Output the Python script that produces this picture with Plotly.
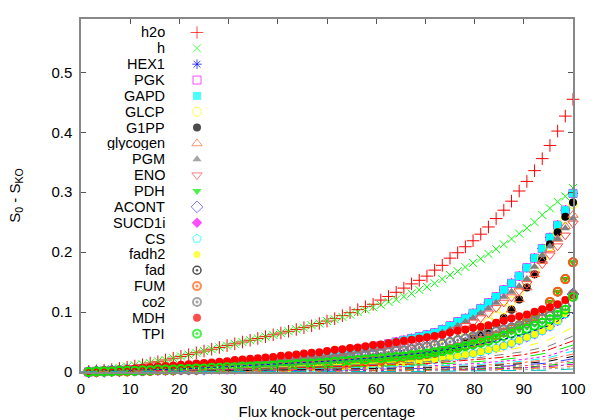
import plotly.graph_objects as go

# x grid: knock-out percentage (64 steps)
flux_pct = [round(100 * k / 64, 4) for k in range(1, 65)]

h2o_vals = [0.001,0.002,0.003,0.004,0.006,0.008,0.010,0.012,0.015,0.017,0.020,0.023,0.026,0.029,0.032,0.035,
            0.038,0.041,0.044,0.047,0.050,0.053,0.056,0.059,0.062,0.065,0.068,0.071,0.074,0.077,0.081,0.085,
            0.089,0.094,0.099,0.104,0.109,0.113,0.120,0.126,0.133,0.140,0.147,0.153,0.160,0.170,0.178,0.190,
            0.199,0.209,0.219,0.230,0.242,0.256,0.270,0.285,0.302,0.318,0.336,0.356,0.378,0.402,0.427,0.455]
h_vals = [0.001,0.002,0.004,0.005,0.007,0.009,0.011,0.013,0.015,0.018,0.020,0.023,0.026,0.029,0.032,0.035,
          0.038,0.041,0.044,0.047,0.050,0.053,0.056,0.059,0.062,0.065,0.068,0.071,0.074,0.078,0.081,0.085,
          0.088,0.092,0.096,0.100,0.104,0.108,0.112,0.117,0.121,0.126,0.131,0.137,0.142,0.148,0.155,0.162,
          0.168,0.175,0.182,0.189,0.197,0.205,0.213,0.222,0.231,0.240,0.250,0.262,0.273,0.284,0.293,0.307]
gapd_vals = [0.000,0.001,0.001,0.002,0.002,0.003,0.003,0.004,0.004,0.005,0.006,0.006,0.007,0.008,0.009,0.010,
             0.011,0.012,0.013,0.014,0.015,0.016,0.017,0.018,0.019,0.020,0.022,0.023,0.024,0.026,0.027,0.029,
             0.031,0.033,0.035,0.037,0.039,0.041,0.044,0.047,0.050,0.053,0.056,0.059,0.062,0.0655,0.071,0.077,
             0.084,0.0895,0.098,0.106,0.1155,0.1255,0.137,0.148,0.160,0.174,0.190,0.206,0.2245,0.245,0.270,0.298]
glcp_vals = [0.000,0.000,0.001,0.001,0.001,0.001,0.002,0.002,0.002,0.003,0.003,0.003,0.004,0.004,0.004,0.005,
             0.005,0.005,0.006,0.006,0.006,0.007,0.007,0.007,0.008,0.008,0.008,0.009,0.009,0.010,0.010,0.011,
             0.012,0.013,0.014,0.015,0.017,0.018,0.020,0.022,0.024,0.026,0.029,0.032,0.035,0.039,0.043,0.048,
             0.053,0.059,0.066,0.074,0.083,0.093,0.105,0.118,0.133,0.150,0.170,0.190,0.210,0.232,0.255,0.280]
g1pp_vals = [0.000,0.000,0.001,0.001,0.001,0.002,0.002,0.002,0.003,0.003,0.003,0.004,0.004,0.004,0.005,0.005,
             0.006,0.006,0.006,0.007,0.007,0.008,0.008,0.008,0.009,0.009,0.010,0.010,0.011,0.011,0.012,0.012,
             0.013,0.014,0.015,0.016,0.017,0.018,0.019,0.021,0.022,0.024,0.026,0.028,0.030,0.033,0.035,0.038,
             0.042,0.050,0.056,0.062,0.070,0.080,0.090,0.104,0.121,0.141,0.163,0.188,0.213,0.233,0.259,0.283]
glycogen_vals = [0.000,0.000,0.001,0.001,0.001,0.002,0.002,0.002,0.003,0.003,0.003,0.004,0.004,0.004,0.005,0.005,
                 0.006,0.006,0.006,0.007,0.007,0.008,0.008,0.008,0.009,0.009,0.010,0.010,0.011,0.011,0.012,0.012,
                 0.013,0.014,0.015,0.016,0.017,0.018,0.019,0.021,0.022,0.024,0.026,0.028,0.030,0.033,0.035,0.038,
                 0.042,0.050,0.056,0.062,0.070,0.080,0.090,0.104,0.121,0.141,0.163,0.185,0.205,0.222,0.243,0.262]
pgm_vals = [0.000,0.001,0.001,0.002,0.002,0.003,0.003,0.004,0.004,0.005,0.005,0.006,0.007,0.007,0.008,0.009,
            0.010,0.011,0.012,0.013,0.014,0.015,0.016,0.017,0.018,0.019,0.020,0.021,0.022,0.024,0.025,0.026,
            0.028,0.030,0.032,0.034,0.036,0.038,0.040,0.043,0.046,0.049,0.052,0.055,0.058,0.061,0.066,0.071,
            0.077,0.084,0.0895,0.098,0.106,0.1155,0.1255,0.134,0.143,0.155,0.1755,0.195,0.210,0.222,0.240,0.256]
eno_vals = [0.000,0.001,0.001,0.001,0.002,0.002,0.003,0.003,0.004,0.004,0.005,0.005,0.006,0.007,0.007,0.008,
            0.009,0.009,0.010,0.011,0.012,0.013,0.014,0.015,0.016,0.017,0.018,0.019,0.020,0.021,0.022,0.023,
            0.024,0.025,0.027,0.029,0.031,0.033,0.035,0.037,0.040,0.043,0.046,0.049,0.052,0.056,0.060,0.065,
            0.071,0.077,0.083,0.090,0.098,0.107,0.116,0.125,0.135,0.147,0.163,0.180,0.195,0.210,0.228,0.248]
pdh_vals = [0.000,0.000,0.001,0.001,0.001,0.001,0.002,0.002,0.002,0.003,0.003,0.003,0.004,0.004,0.004,0.005,
            0.005,0.006,0.006,0.006,0.007,0.007,0.008,0.008,0.009,0.009,0.010,0.010,0.011,0.011,0.012,0.012,
            0.013,0.014,0.015,0.016,0.017,0.018,0.019,0.021,0.022,0.024,0.026,0.028,0.030,0.032,0.035,0.038,
            0.041,0.044,0.048,0.052,0.056,0.061,0.066,0.072,0.078,0.085,0.092,0.101,0.117,0.134,0.155,0.183]
co2_vals = [0.000,0.001,0.001,0.002,0.002,0.003,0.003,0.004,0.004,0.005,0.005,0.006,0.006,0.007,0.008,0.008,
            0.009,0.010,0.010,0.011,0.012,0.013,0.014,0.014,0.015,0.016,0.017,0.018,0.019,0.020,0.021,0.022,
            0.023,0.024,0.025,0.027,0.028,0.030,0.031,0.033,0.035,0.036,0.038,0.040,0.042,0.045,0.047,0.050,
            0.053,0.056,0.059,0.062,0.065,0.068,0.071,0.074,0.077,0.081,0.085,0.089,0.094,0.100,0.110,0.130]
mdh_vals = [0.001,0.002,0.003,0.003,0.004,0.005,0.006,0.007,0.008,0.009,0.010,0.011,0.012,0.013,0.014,0.015,
            0.016,0.017,0.018,0.020,0.021,0.022,0.023,0.024,0.025,0.027,0.028,0.029,0.031,0.032,0.033,0.035,
            0.037,0.038,0.040,0.041,0.043,0.045,0.046,0.048,0.050,0.052,0.054,0.056,0.058,0.060,0.062,0.066,
            0.069,0.071,0.074,0.0755,0.078,0.082,0.0855,0.0895,0.093,0.096,0.1005,0.1045,0.108,0.113,0.120,0.128]
tpi_vals = [0.000,0.001,0.001,0.001,0.002,0.002,0.002,0.003,0.003,0.004,0.004,0.004,0.005,0.005,0.006,0.006,
            0.007,0.007,0.008,0.008,0.009,0.009,0.010,0.010,0.011,0.012,0.012,0.013,0.014,0.014,0.015,0.016,
            0.017,0.018,0.019,0.020,0.021,0.022,0.023,0.024,0.025,0.026,0.028,0.029,0.031,0.033,0.035,0.037,
            0.040,0.043,0.046,0.049,0.052,0.056,0.060,0.064,0.068,0.072,0.077,0.082,0.088,0.095,0.104,0.125]
cs_vals = [0.000,0.000,0.000,0.001,0.001,0.001,0.001,0.001,0.002,0.002,0.002,0.002,0.003,0.003,0.003,0.003,
           0.004,0.004,0.004,0.004,0.005,0.005,0.005,0.005,0.006,0.006,0.006,0.007,0.007,0.007,0.008,0.008,
           0.009,0.009,0.010,0.011,0.011,0.012,0.013,0.014,0.015,0.016,0.017,0.018,0.020,0.021,0.023,0.025,
           0.027,0.029,0.031,0.034,0.037,0.040,0.044,0.048,0.053,0.058,0.063,0.069,0.076,0.085,0.097,0.125]

series_names = ["h2o", "h", "HEX1", "PGK", "GAPD", "GLCP", "G1PP", "glycogen", "PGM", "ENO",
                "PDH", "ACONT", "SUCD1i", "CS", "fadh2", "fad", "FUM", "co2", "MDH", "TPI"]
series_values = [h2o_vals, h_vals, gapd_vals, gapd_vals, gapd_vals, glcp_vals, g1pp_vals, glycogen_vals,
                 pgm_vals, eno_vals, pdh_vals, co2_vals, cs_vals, cs_vals, cs_vals, pdh_vals, pdh_vals,
                 co2_vals, mdh_vals, tpi_vals]

# other (unlabelled) reactions drawn as thin lines
line_x = [0, 10, 20, 30, 40, 50, 60, 70, 80, 85, 90, 95, 100]
other_lines = [
    [0, 0.002, 0.005, 0.009, 0.013, 0.018, 0.024, 0.032, 0.045, 0.053, 0.063, 0.077, 0.098],
    [0, 0.001, 0.003, 0.005, 0.008, 0.011, 0.015, 0.020, 0.028, 0.034, 0.042, 0.053, 0.075],
    [0, 0.001, 0.003, 0.005, 0.007, 0.010, 0.013, 0.017, 0.023, 0.028, 0.034, 0.043, 0.060],
    [0, 0.001, 0.002, 0.004, 0.006, 0.008, 0.011, 0.014, 0.020, 0.024, 0.029, 0.037, 0.052],
    [0, 0.001, 0.002, 0.003, 0.005, 0.007, 0.009, 0.012, 0.017, 0.020, 0.025, 0.032, 0.045],
    [0, 0.001, 0.002, 0.003, 0.004, 0.006, 0.008, 0.010, 0.014, 0.017, 0.021, 0.027, 0.040],
    [0, 0.000, 0.001, 0.002, 0.004, 0.005, 0.007, 0.009, 0.012, 0.015, 0.018, 0.024, 0.035],
    [0, 0.000, 0.001, 0.002, 0.003, 0.004, 0.006, 0.008, 0.010, 0.013, 0.016, 0.021, 0.030],
    [0, 0.000, 0.001, 0.002, 0.003, 0.004, 0.005, 0.007, 0.009, 0.011, 0.014, 0.018, 0.026],
    [0, 0.000, 0.001, 0.001, 0.002, 0.003, 0.004, 0.006, 0.008, 0.009, 0.012, 0.015, 0.022],
    [0, 0.000, 0.001, 0.001, 0.002, 0.003, 0.004, 0.005, 0.006, 0.008, 0.010, 0.013, 0.019],
    [0, 0.000, 0.000, 0.001, 0.001, 0.002, 0.003, 0.004, 0.005, 0.007, 0.008, 0.011, 0.016],
    [0, 0.000, 0.000, 0.001, 0.001, 0.002, 0.002, 0.003, 0.004, 0.005, 0.007, 0.009, 0.013],
    [0, 0.000, 0.000, 0.001, 0.001, 0.001, 0.002, 0.002, 0.003, 0.004, 0.005, 0.007, 0.010],
    [0, 0.000, 0.000, 0.000, 0.001, 0.001, 0.001, 0.002, 0.002, 0.003, 0.004, 0.005, 0.007],
    [0, 0.000, 0.000, 0.000, 0.000, 0.001, 0.001, 0.001, 0.002, 0.002, 0.003, 0.003, 0.005],
]

x_ticks = [0, 10, 20, 30, 40, 50, 60, 70, 80, 90, 100]
y_ticks = [0, 0.1, 0.2, 0.3, 0.4, 0.5]

# styles
symbols = ["cross-thin-open", "x-thin-open", "asterisk-open", "square-open", "square", "circle-open",
           "circle", "triangle-up-open", "triangle-up", "triangle-down-open", "triangle-down",
           "diamond-open", "diamond", "pentagon-open", "circle", "circle-open-dot", "circle-open-dot",
           "circle-open-dot", "circle", "circle-open-dot"]
colors = ["#ff0000", "#00ff00", "#0000ff", "#ff00ff", "#00ffff", "#ffff00", "#000000", "#ff6a40",
          "#808080", "#ff4c4c", "#00ee00", "#4040ff", "#ff00ff", "#00ffff", "#ffff00", "#000000",
          "#ff6010", "#808080", "#ff0000", "#00ee00"]
sizes = [9, 8, 8, 8, 8, 9, 8, 9, 8, 9, 8, 9, 8, 9, 7, 8, 8, 8, 8, 8]
widths = [1, 1, 1, 1, 0, 1, 0, 1, 0, 1, 0, 1, 0, 1, 0, 1.5, 2, 2, 0, 2]
line_colors = ["#0000ff", "#ffff00", "#808080", "#ff0000", "#00ee00", "#ff00ff", "#00ffff", "#ff6a40",
               "#000000", "#4040ff", "#ff4c4c", "#00c000", "#c000c0", "#ff8000", "#a0a0a0", "#00c0c0"]
line_dashes = ["dot", "dash", "dash", "dashdot", "longdash", "dot", "dash", "dashdot",
               "dash", "longdash", "dot", "dash", "dashdot", "dash", "dot", "longdash"]

FONT = "Liberation Sans, Arial, Helvetica, sans-serif"

fig = go.Figure()
for name, vals, sym, col, sz, w in zip(series_names, series_values, symbols, colors, sizes, widths):
    assert len(vals) == len(flux_pct), name
    fig.add_trace(go.Scatter(
        x=flux_pct, y=vals, mode="markers", name=name, showlegend=False, cliponaxis=False,
        marker=dict(symbol=sym, color=col, size=sz, line=dict(color=col, width=w))))

for vals, col, dash in zip(other_lines, line_colors, line_dashes):
    fig.add_trace(go.Scatter(x=line_x, y=vals, mode="lines", showlegend=False,
                             line=dict(color=col, width=1, dash=dash)))

# custom key (text to the left of the symbol), placed in plot-area fractions
L, R, T, B = 81, 27, 19, 48
W, H = 600 - L - R, 420 - T - B
key_sym_x = (197 - L) / W
key_txt_x = (166 - L) / W
key_y = [(420 - B - (32.5 + 15.85 * i)) / H for i in range(len(series_names))]

fig.add_trace(go.Scatter(
    x=[key_sym_x] * len(series_names), y=key_y, xaxis="x2", yaxis="y2", mode="markers",
    showlegend=False, cliponaxis=False,
    marker=dict(symbol=symbols, color=colors, size=sizes, line=dict(color=colors, width=widths))))

for name, yy in zip(series_names, key_y):
    fig.add_annotation(x=key_txt_x, y=yy, xref="paper", yref="paper", text=name, showarrow=False,
                       xanchor="right", yanchor="middle", height=14, borderpad=0,
                       font=dict(family=FONT, size=14.5, color="black"))

axis_common = dict(ticks="inside", ticklen=5, tickwidth=1, tickcolor="#555555", showline=True,
                   linecolor="#888888", linewidth=1.5, mirror="allticks", showgrid=False,
                   tickfont=dict(family=FONT, size=15, color="black"))

fig.update_layout(
    width=600, height=420, margin=dict(l=L, r=R, t=T, b=B, autoexpand=False),
    paper_bgcolor="white", plot_bgcolor="white", showlegend=False,
    font=dict(family=FONT, size=15, color="black"),
    xaxis=dict(range=[0, 100], tickvals=x_ticks, zeroline=False, ticklabelstandoff=2,
               title=dict(text="Flux knock-out percentage", font=dict(family=FONT, size=15), standoff=11),
               **axis_common),
    yaxis=dict(range=[0, 0.589], tickvals=y_ticks, zeroline=True, zerolinecolor="black",
               zerolinewidth=1, ticklabelstandoff=4,
               title=dict(text="S<sub>0</sub> - S<sub>KO</sub>", font=dict(family=FONT, size=15), standoff=27),
               **axis_common),
    xaxis2=dict(range=[0, 1], overlaying="x", visible=False, anchor="y2"),
    yaxis2=dict(range=[0, 1], overlaying="y", visible=False, anchor="x2"),
)

fig.write_html("out.html", config={"displayModeBar": False},
               post_script="document.body.style.margin='0';document.body.style.overflow='hidden';")
